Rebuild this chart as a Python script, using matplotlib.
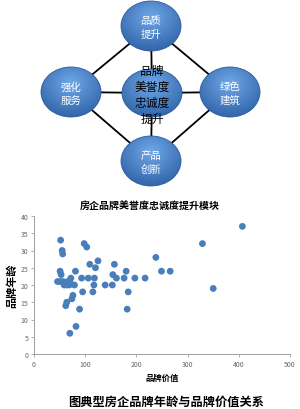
import matplotlib.pyplot as plt
import numpy as np
from matplotlib.patches import Ellipse

plt.rcParams['font.family'] = ['Noto Sans CJK SC', 'DejaVu Sans']

# 品牌价值 (x) 与 品牌年龄 (y)
brand_value = [407, 329, 350, 238, 249, 266, 217, 197, 176, 180, 184, 182,
               157, 154, 161, 153, 139, 125, 120, 118, 117, 115, 109, 106,
               98, 103, 93, 95, 89, 81, 79, 82, 70, 52, 55, 56, 51, 53,
               46, 51, 57, 59, 64, 69, 66, 72, 70, 76, 74, 64, 62]
brand_age = [37, 32, 19, 28, 24, 24, 22, 22, 22, 24, 18, 13,
             26, 23, 22, 20, 20, 27, 25, 22, 20, 18, 26, 22,
             32, 31, 22, 18, 13, 24, 20, 8, 6, 33, 30, 29, 24, 23,
             21, 21, 21, 20, 20, 20, 21, 22, 21, 17, 16, 15, 14]

x_ticks = [0, 100, 200, 300, 400, 500]
y_ticks = [0, 5, 10, 15, 20, 25, 30, 35, 40]

# 模块图：名称和位置 (像素)
node_labels = ['品质\n提升', '强化\n服务', '绿色\n建筑', '产品\n创新']
node_xy = [(151, 27), (71, 93), (230, 93), (151, 162)]
center_label = '品牌\n美誉度\n忠诚度\n提升'
center_xy = (152, 94)

fig = plt.figure(figsize=(3.0, 4.1), dpi=100)

# ---- 上半部分：模块图 ----
dax = fig.add_axes([0, 1 - 200 / 410, 1, 200 / 410])
dax.set_xlim(0, 300)
dax.set_ylim(200, 0)
dax.axis('off')

# 连线: 外圈菱形 + 中心十字
ring = node_xy[0], node_xy[2], node_xy[3], node_xy[1], node_xy[0]
dax.plot([p[0] for p in ring], [p[1] for p in ring], color='black', lw=1.3, zorder=1)
for p in node_xy:
    dax.plot([center_xy[0], p[0]], [center_xy[1], p[1]], color='black', lw=1.3, zorder=1)

light = np.array([0x6f, 0xa8, 0xe8]) / 255
dark = np.array([0x2c, 0x5e, 0xa4]) / 255


def blob(cx, cy, rx, ry):
    e = Ellipse((cx, cy), 2 * rx, 2 * ry, facecolor='none', edgecolor='#2a5a9a', lw=0.6, zorder=4)
    dax.add_patch(e)
    gx, gy = np.meshgrid(np.linspace(-1, 1, 80), np.linspace(-1, 1, 80))
    d = np.sqrt(gx ** 2 + (gy + 0.35) ** 2) / 1.5
    d = np.clip(d, 0, 1)
    img = light[None, None, :] * (1 - d[..., None]) + dark[None, None, :] * d[..., None]
    im = dax.imshow(img, extent=(cx - rx, cx + rx, cy + ry, cy - ry), zorder=3,
                    interpolation='bilinear')
    im.set_clip_path(e)


for (x, y), lab in zip(node_xy, node_labels):
    blob(x, y, 30, 25)
    dax.text(x, y + 1, lab, color='white', fontsize=7.5, ha='center', va='center',
             linespacing=1.45, zorder=5)
blob(center_xy[0], center_xy[1], 30, 24)
dax.text(center_xy[0], center_xy[1] + 1, center_label, color='black', fontsize=8.5,
         ha='center', va='center', linespacing=1.3, zorder=5)

fig.text(0.5, 1 - 207 / 410, '房企品牌美誉度忠诚度提升模块', fontsize=7.2,
         fontweight='bold', ha='center', va='center')

# ---- 下半部分：散点图 ----
ax = fig.add_axes([34 / 300, 1 - 355 / 410, 256 / 300, 138 / 410])
ax.scatter(brand_value, brand_age, s=24, color='#4a7ebb', edgecolors='none', zorder=3)
ax.set_xlim(0, 500)
ax.set_ylim(0, 40)
ax.set_xticks(x_ticks)
ax.set_yticks(y_ticks)
for s in ['top', 'right']:
    ax.spines[s].set_visible(False)
for s in ['left', 'bottom']:
    ax.spines[s].set_color('#a0a0a0')
    ax.spines[s].set_linewidth(0.7)
ax.tick_params(length=2, width=0.6, color='#a0a0a0', labelsize=5, labelcolor='#666666', pad=2)
ax.set_xlabel('品牌价值', fontsize=6, fontweight='bold', labelpad=4)
ax.set_ylabel('品牌年龄', fontsize=8, fontweight='bold', labelpad=2)

fig.text(166 / 300, 1 - 402 / 410, '图典型房企品牌年龄与品牌价值关系', fontsize=8.8,
         fontweight='bold', ha='center', va='center')

fig.savefig('out.png', dpi=100)
